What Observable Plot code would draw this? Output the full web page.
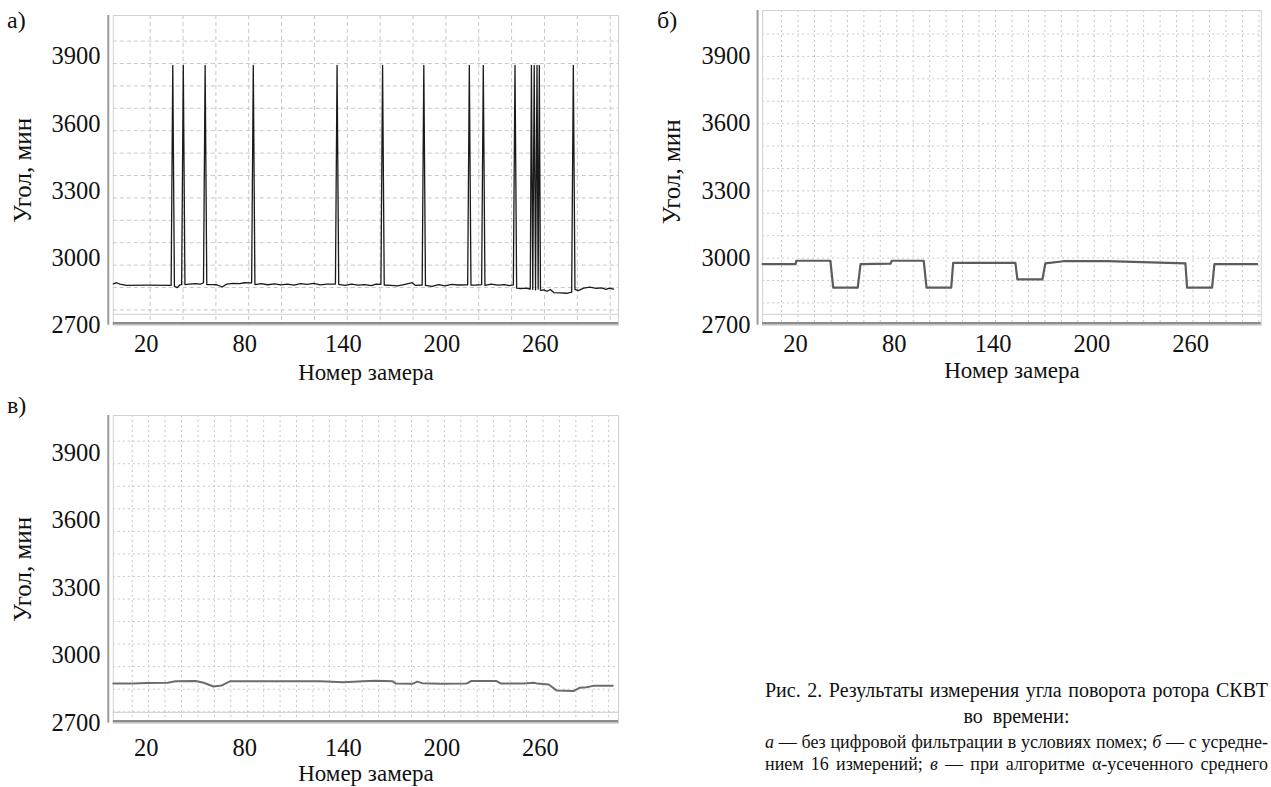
<!DOCTYPE html>
<html><head><meta charset="utf-8">
<script src="https://cdn.jsdelivr.net/npm/d3@7"></script>
<script src="https://cdn.jsdelivr.net/npm/@observablehq/plot@0.6"></script>
<style>
body{margin:0;background:#fff;}
#root{position:relative;width:1271px;height:787px;overflow:hidden;font-family:"Liberation Serif","Times New Roman",serif;color:#111;}
#root svg, #root svg text{font-family:"Liberation Serif","Times New Roman",serif !important;}
.pl{position:absolute;}
.lbl{position:absolute;font-size:24px;line-height:1;}
.cap{position:absolute;left:765px;width:503px;line-height:1.2;white-space:nowrap;text-align:justify;text-align-last:justify;}
</style></head><body><div id="root">
<div class="lbl" style="left:7px;top:8px">а)</div>
<div class="lbl" style="left:657px;top:8px">б)</div>
<div class="lbl" style="left:7px;top:393px">в)</div>
<div class="cap" style="top:678px;font-size:20px">Рис. 2. Результаты измерения угла поворота ротора СКВТ</div>
<div class="cap" style="top:704px;font-size:20px;text-align:center;text-align-last:center">во&nbsp;&nbsp;времени:</div>
<div class="cap" style="top:732.2px;font-size:18px"><i>а</i> — без цифровой фильтрации в условиях помех; <i>б</i> — с усредне-</div>
<div class="cap" style="top:754.2px;font-size:18px">нием 16 измерений; <i>в</i> — при алгоритме α-усеченного среднего</div>
</div>
<script>
const xTicks = [20, 80, 140, 200, 260];
const yTicks = [2700, 3000, 3300, 3600, 3900];
const gridXa = [20,40,60,80,100,120,140,160,180,200,220,240,260,280,300];
const gridX10 = [10,20,30,40,50,60,70,80,90,100,110,120,130,140,150,160,170,180,190,200,210,220,230,240,250,260,270,280,290,300];
const gridY = [2800,2900,3000,3100,3200,3300,3400,3500,3600,3700,3800,3900,4000];
const xTitle = "Номер замера";
const yTitle = "Угол, мин";

// а) без фильтрации: [номер замера, угол]
const seriesA = [[0,2885],[2,2890],[4,2884],[8,2878],[20,2879],[35.2,2878],[36.2,3860],[37.2,2874],[38.9,2868],[40.5,2880],[41.6,2882],[42.6,3860],[43.6,2882],[46,2884],[50,2886],[53,2884],[54.9,2890],[55.9,3860],[56.9,2882],[60,2882],[63,2881],[66.3,2871],[69,2884],[73,2887],[77,2886],[80,2890],[84.2,2889],[85.2,3860],[86.2,2882],[90,2886],[94,2881],[98,2885],[102,2880],[106,2884],[110,2879],[114,2886],[118,2883],[122,2887],[126,2880],[130,2884],[135.2,2884],[136.2,3860],[137.2,2883],[141,2878],[145,2884],[149,2879],[153,2882],[157,2877],[160,2884],[162.9,2883],[163.9,3860],[164.9,2880],[169,2878],[173,2876],[177,2882],[181.9,2890],[184,2878],[188,2880],[189,3860],[190,2878],[194,2874],[198,2882],[202,2876],[206,2883],[210,2880],[215.7,2881],[216.7,3860],[217.7,2879],[221,2880],[224.2,2882],[225.2,3860],[226.2,2878],[230,2884],[234,2879],[238,2882],[241,2877],[243.5,2880],[244.5,3860],[245.5,2866],[248,2864],[251,2866],[253.8,2862],[254.5,3860],[255.3,2860],[256.2,3860],[257,2858],[257.9,3860],[258.6,2862],[259.3,3860],[260,2856],[262,2858],[264,2852],[266,2860],[268.1,2846],[272,2845],[276,2843],[279,2848],[280,3860],[281,2860],[283,2855],[286.4,2866],[290,2870],[294,2865],[297,2867],[300,2860],[302,2866],[304.5,2862]];

// б) усреднение 16 измерений
const seriesB = [[0,2973],[20,2973],[20.5,2988],[41.2,2988],[42.9,2868],[57.8,2868],[59.5,2973],[77.7,2975],[78.5,2988],[97.9,2988],[99.6,2868],[114.6,2868],[115.8,2979],[153.6,2979],[154.8,2905],[170,2905],[171.8,2976],[182.8,2986],[209.5,2986],[256.9,2976],[257.9,2868],[273.1,2868],[274.5,2973],[300.5,2973]];

// в) альфа-усеченное среднее
const seriesC = [[0,2877],[12,2876],[20,2879],[33,2880],[38,2886],[50,2888],[55,2880],[61,2863],[66,2868],[71,2886],[100,2887],[126,2886],[140,2882],[152,2886],[160,2889],[170,2886],[172,2876],[182,2875],[185,2885],[188,2878],[200,2875],[215,2876],[218,2888],[233,2888],[236,2876],[250,2876],[256,2880],[258,2876],[265,2872],[270,2845],[280,2843],[284,2858],[288,2860],[292,2866],[304,2866]];

const serif = '"Liberation Serif", "Times New Roman", serif';

function panel(o) {
  const rows = o.data.map(([x, y]) => ({x, y}));
  const svg = Plot.plot({
    width: o.width, height: o.height,
    marginLeft: o.ml, marginRight: o.mr, marginTop: o.mt, marginBottom: o.mb,
    style: {fontFamily: serif, fontSize: "24.5px", color: "#111", background: "transparent", overflow: "visible"},
    x: {domain: o.xDomain, ticks: xTicks, tickFormat: d => String(d), tickSize: 0, tickPadding: o.xPad, label: null},
    y: {domain: o.yDomain, ticks: yTicks, tickFormat: d => String(d), tickSize: 0, tickPadding: o.yPad, label: null},
    marks: [
      Plot.ruleX(o.gridX, {stroke: "#c8c8c8", strokeDasharray: o.dash, dx: o.gdx}),
      Plot.ruleY(gridY, {stroke: "#c8c8c8", strokeDasharray: o.dash, dy: o.gdy}),
      Plot.frame({stroke: "#d2d2d2"}),
      Plot.ruleY([o.yDomain[0]], {stroke: "#cfcfcf", dy: -11}),
      Plot.ruleX([o.xDomain[0]], {stroke: "#9c9c9c", strokeWidth: 2, dx: -5}),
      Plot.ruleY([o.yDomain[0]], {stroke: "#8c8c8c", strokeWidth: 2.5, dy: -2}),
      Plot.line(rows, {x: "x", y: "y", stroke: o.color, strokeWidth: o.sw}),
      Plot.text([xTitle], {text: d => d, frameAnchor: "bottom", lineAnchor: "middle", textAnchor: "middle", dy: o.xtDy, fontSize: 23, fontFamily: serif}),
      Plot.text([yTitle], {text: d => d, frameAnchor: "left", lineAnchor: "middle", textAnchor: "middle", rotate: -90, dx: o.ytDx, dy: o.ytDy || 0, fontSize: 25, fontFamily: serif})
    ]
  });
  svg.classList.add("pl");
  svg.style.left = o.left + "px";
  svg.style.top = o.top + "px";
  svg.setAttribute("font-family", serif);
  svg.querySelectorAll("g, text").forEach(el => {
    if (el.hasAttribute("font-family")) el.setAttribute("font-family", serif);
    if (el.tagName.toLowerCase() === "text") el.style.fontFamily = serif;
  });
  document.getElementById("root").appendChild(svg);
}

panel({data: seriesA, left: 0, top: 0, width: 630, height: 390, ml: 112.8, mr: 12, mt: 15, mb: 65.2,
  xDomain: [0, 307.5], yDomain: [2700, 4083], xPad: 9, yPad: 12.8, gridX: gridXa, gdx: 4, gdy: 7,
  dash: "4,3", color: "#1a1a1a", sw: 1.3, xtDy: 47, ytDx: -90.8});
panel({data: seriesB, left: 640, top: 0, width: 631, height: 390, ml: 122.1, mr: 10.2, mt: 10, mb: 65.2,
  xDomain: [0, 303], yDomain: [2700, 4105], xPad: 9, yPad: 12.1, gridX: gridX10, gdx: 2.5, gdy: 0,
  dash: "2,3", color: "#5c5c5c", sw: 2.2, xtDy: 45, ytDx: -91, ytDy: 4});
panel({data: seriesC, left: 0, top: 395, width: 630, height: 392, ml: 112.8, mr: 12, mt: 20, mb: 64.2,
  xDomain: [0, 307.5], yDomain: [2700, 4065], xPad: 14.8, yPad: 12.8, gridX: gridX10, gdx: 2.5, gdy: 11,
  dash: "2,3", color: "#6c6c6c", sw: 2, xtDy: 50, ytDx: -90.8});
</script>
</body></html>
